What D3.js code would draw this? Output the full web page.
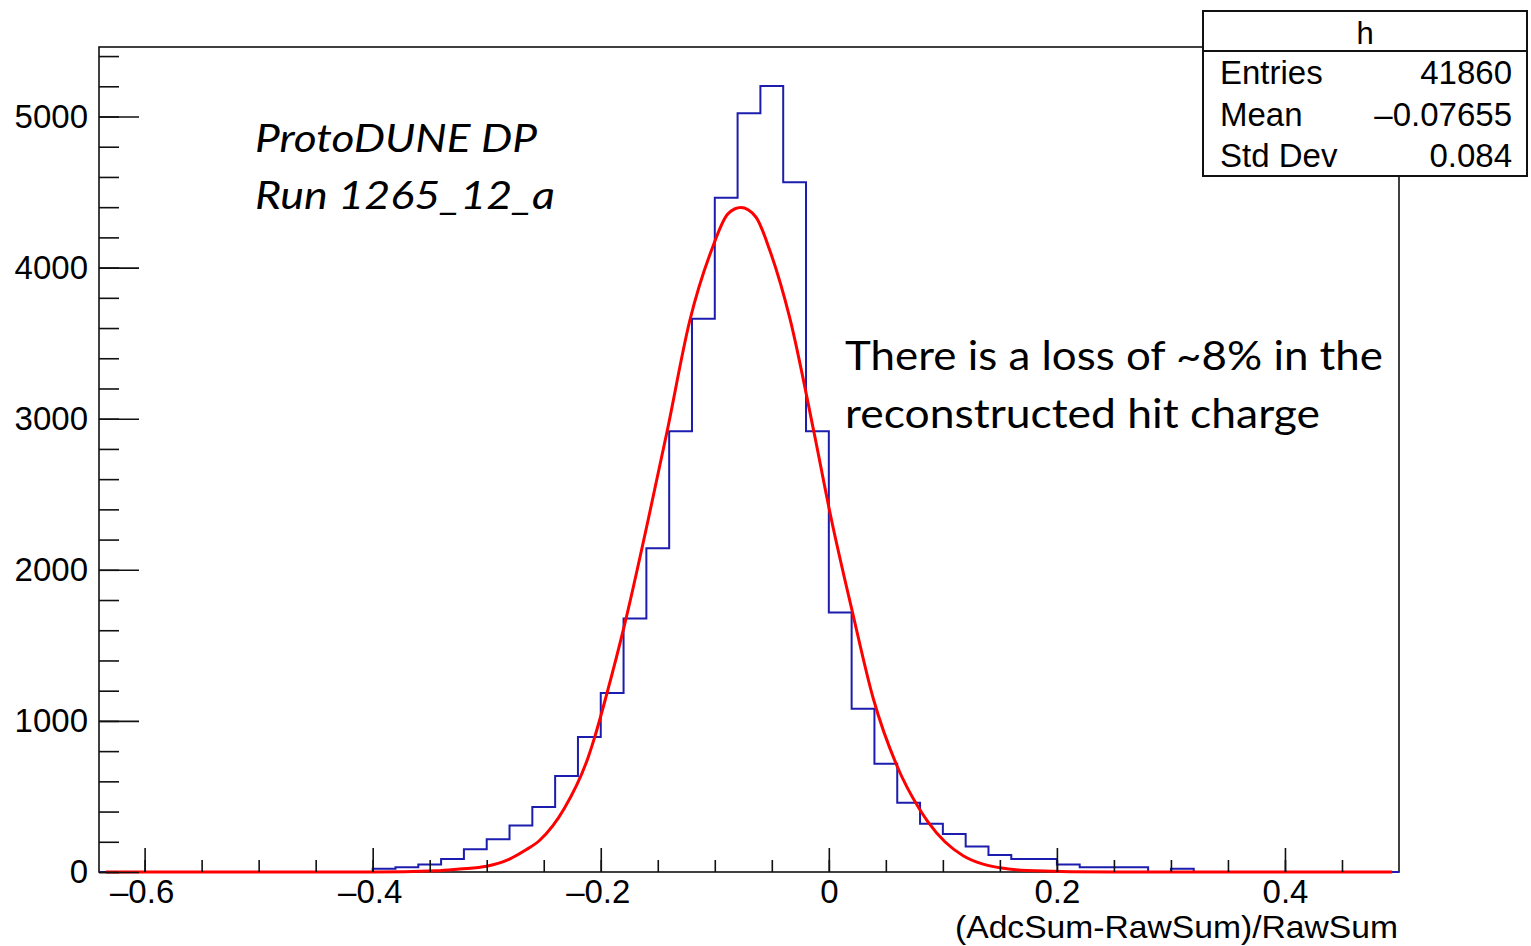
<!DOCTYPE html>
<meta charset="utf-8" />
<script src="https://d3js.org/d3.v7.min.js"></script>
<style>
  body { margin: 0; background: #fff; }
</style>
<div id="chart"></div>
<script>
  // histogram "h": bins of 0.02 starting at -0.64
  const binLow = -0.64;
  const binWidth = 0.02;
  const counts = [
    0, 0, 0, 0, 0, 0, 0, 0, 0, 0, 0, 0,
    22, 31, 49, 86, 150, 216, 307, 430, 635, 893,
    1185, 1677, 2142, 2917, 3662, 4463, 5021, 5202, 4565, 2917,
    1717, 1081, 717, 459, 320, 251, 168, 113, 86, 86,
    49, 31, 31, 31, 0, 22, 0, 0, 0, 0, 0, 0, 0, 0, 0
  ];

  // red fit curve
  const fitX = [-0.634, -0.4, -0.344, -0.324, -0.3, -0.28, -0.267, -0.2535, -0.232, -0.211,
    -0.2053, -0.195, -0.179, -0.1585, -0.1418, -0.1219, -0.1029, -0.0883, -0.0772,
    -0.064, -0.0518, -0.0342, -0.0132, 0.0024, 0.0208, 0.0389, 0.0599,
    0.0792, 0.0871, 0.1018, 0.1178, 0.1339, 0.15, 0.1734, 0.25, 0.494];
  const fitY = [0, 0, 8, 20, 38, 85, 140, 210, 420, 760,
    893, 1170, 1640, 2328, 2917, 3650, 4115, 4357, 4397,
    4335, 4115, 3665, 2917, 2328, 1717, 1150, 700,
    420, 330, 200, 108, 55, 28, 10, 0, 0];

  const xMajor = [-0.6, -0.4, -0.2, 0, 0.2, 0.4];
  const xMajorLabels = ["\u20130.6", "\u20130.4", "\u20130.2", "0", "0.2", "0.4"];
  const yMajor = [0, 1000, 2000, 3000, 4000, 5000];
  const yMajorLabels = ["0", "1000", "2000", "3000", "4000", "5000"];

  const statNames = ["Entries", "Mean", "Std Dev"];
  const statValues = ["41860", "\u20130.07655", "0.084"];

  const width = 1531;
  const height = 946;
  const rootFont = "'Liberation Sans', Arial, Helvetica, sans-serif";
  const slideFont = "Lato, 'Open Sans', sans-serif";

  const svg = d3
    .select("#chart")
    .append("svg")
    .attr("width", width)
    .attr("height", height)
    .style("background", "#fff");

  const x = d3.scaleLinear().domain([-0.64, 0.5]).range([99, 1399]);
  const y = d3.scaleLinear().domain([0, 5460]).range([872, 47]);

  // frame
  svg
    .append("rect")
    .attr("x", x.range()[0])
    .attr("y", y.range()[1])
    .attr("width", x.range()[1] - x.range()[0])
    .attr("height", y.range()[0] - y.range()[1])
    .attr("fill", "none")
    .attr("stroke", "#111")
    .attr("stroke-width", 1.6);

  // histogram outline
  const steps = counts.map((c, i) => ({ e: binLow + i * binWidth, c: c }));
  steps.push({ e: binLow + counts.length * binWidth, c: 0 });
  const stepLine = d3
    .line()
    .x((d) => x(d.e))
    .y((d) => y(d.c))
    .curve(d3.curveStepAfter);
  svg
    .append("path")
    .datum(steps)
    .attr("d", stepLine)
    .attr("fill", "none")
    .attr("stroke", "#1c1cae")
    .attr("stroke-width", 2);

  // fit
  const fitPts = fitX.map((v, i) => [v, fitY[i]]);
  svg
    .append("path")
    .datum(fitPts)
    .attr("d", d3.line().x((d) => x(d[0])).y((d) => y(d[1])).curve(d3.curveMonotoneX))
    .attr("fill", "none")
    .attr("stroke", "#ff0000")
    .attr("stroke-width", 3)
    .attr("stroke-linejoin", "round");

  // x axis: minor ticks then major ticks with labels
  const xMinor = d3.range(-12, 10).map((i) => i * 0.05);
  const gxMinor = svg
    .append("g")
    .attr("transform", `translate(0,${y(0)})`)
    .call(d3.axisBottom(x).tickValues(xMinor).tickSize(-12).tickSizeOuter(0).tickFormat(""));
  const gx = svg
    .append("g")
    .attr("transform", `translate(0,${y(0)})`)
    .call(
      d3.axisBottom(x)
        .tickValues(xMajor)
        .tickSize(-24)
        .tickSizeOuter(0)
        .tickPadding(8)
        .tickFormat((d, i) => xMajorLabels[i])
    );
  gx.selectAll("text").attr("dx", (d) => (d < 0 ? -3 : 0));

  // y axis
  const yMinor = d3.range(0, 5401, 200);
  const gyMinor = svg
    .append("g")
    .attr("transform", `translate(${x(-0.64)},0)`)
    .call(d3.axisLeft(y).tickValues(yMinor).tickSize(-20).tickSizeOuter(0).tickFormat(""));
  const gy = svg
    .append("g")
    .attr("transform", `translate(${x(-0.64)},0)`)
    .call(
      d3.axisLeft(y)
        .tickValues(yMajor)
        .tickSize(-40)
        .tickSizeOuter(0)
        .tickPadding(11)
        .tickFormat((d, i) => yMajorLabels[i])
    );

  [gxMinor, gx, gyMinor, gy].forEach((g) => {
    g.select(".domain").remove();
    g.selectAll("line").attr("stroke", "#111").attr("stroke-width", 1.6);
    g.selectAll("text")
      .attr("fill", "#000")
      .style("font-family", rootFont)
      .style("font-size", "33px");
  });

  // axis title
  svg
    .append("text")
    .attr("x", 1398)
    .attr("y", 938)
    .attr("text-anchor", "end")
    .attr("textLength", 443)
    .attr("lengthAdjust", "spacingAndGlyphs")
    .style("font-family", rootFont)
    .style("font-size", "32px")
    .text("(AdcSum-RawSum)/RawSum");

  // stats box
  const stats = svg.append("g");
  stats
    .append("rect")
    .attr("x", 1203)
    .attr("y", 11)
    .attr("width", 324)
    .attr("height", 165)
    .attr("fill", "#fff")
    .attr("stroke", "#111")
    .attr("stroke-width", 2);
  stats
    .append("line")
    .attr("x1", 1203)
    .attr("x2", 1527)
    .attr("y1", 51)
    .attr("y2", 51)
    .attr("stroke", "#111")
    .attr("stroke-width", 2);
  stats
    .append("text")
    .attr("x", 1365)
    .attr("y", 44)
    .attr("text-anchor", "middle")
    .style("font-family", rootFont)
    .style("font-size", "31px")
    .text("h");
  statNames.forEach((name, i) => {
    stats
      .append("text")
      .attr("x", 1220)
      .attr("y", 84 + i * 41.7)
      .style("font-family", rootFont)
      .style("font-size", "33px")
      .text(name);
    stats
      .append("text")
      .attr("x", 1512)
      .attr("y", 84 + i * 41.7)
      .attr("text-anchor", "end")
      .style("font-family", rootFont)
      .style("font-size", "33px")
      .text(statValues[i]);
  });

  // slide annotations
  const notes = [
    { t: "ProtoDUNE DP", x: 255, y: 152, w: 282, it: true },
    { t: "Run 1265_12_a", x: 255, y: 209, w: 300, it: true },
    { t: "There is a loss of ~8% in the", x: 845, y: 370, w: 538, it: false },
    { t: "reconstructed hit charge", x: 845, y: 428, w: 475, it: false }
  ];
  notes.forEach((n) => {
    svg
      .append("text")
      .attr("x", n.x)
      .attr("y", n.y)
      .attr("textLength", n.w)
      .attr("lengthAdjust", "spacingAndGlyphs")
      .style("font-family", slideFont)
      .style("font-style", n.it ? "italic" : "normal")
      .style("font-size", n.it ? "39px" : "40px")
      .attr("fill", "#000")
      .text(n.t);
  });
</script>
